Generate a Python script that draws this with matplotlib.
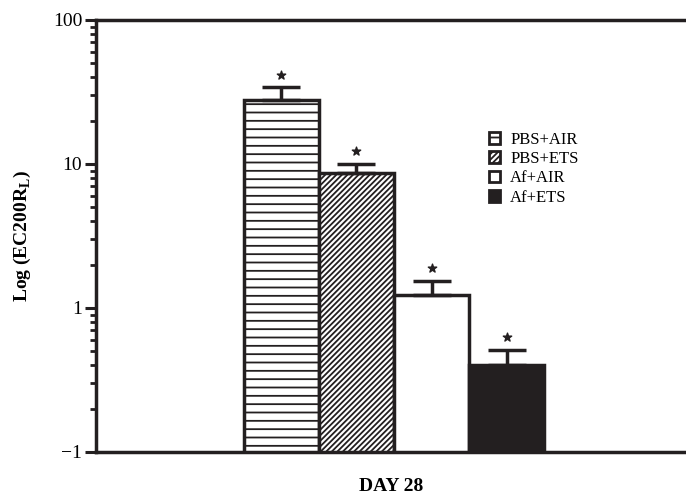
import matplotlib
matplotlib.use("Agg")
import matplotlib.pyplot as plt
from matplotlib.ticker import FixedLocator, LogLocator, NullFormatter
import numpy as np

groups = ["PBS+AIR", "PBS+ETS", "Af+AIR", "Af+ETS"]
means = [28.0, 8.7, 1.23, 0.40]
errors = [6.0, 1.3, 0.31, 0.11]
tick_values = [0.1, 1, 10, 100]
tick_labels = ["\u22121", "1", "10", "100"]
xlabel = "DAY 28"

plt.rcParams['font.family'] = ['Liberation Serif', 'DejaVu Serif']
plt.rcParams['mathtext.fontset'] = 'custom'
plt.rcParams['mathtext.rm'] = 'Liberation Serif'
plt.rcParams['mathtext.bf'] = 'Liberation Serif:bold'
plt.rcParams['hatch.linewidth'] = 1.3

fig = plt.figure(figsize=(6.86, 4.95), dpi=100)
ax = fig.add_axes([96/686, 1-452/495, 1-96/686, (452-20)/495])

hatches = ['--', '//////', '', '']
faces = ['white', 'white', 'white', '#231f20']
x = np.arange(len(groups))
col = '#231f20'
bars = ax.bar(x, means, width=1.0, color=faces, edgecolor=col, linewidth=2.5,
              zorder=2)
for b, h, g in zip(bars, hatches, groups):
    b.set_hatch(h)
    b.set_label(g)
ax.errorbar(x, means, yerr=[np.zeros(len(means)), errors], fmt='none',
            ecolor=col, elinewidth=2.5, capsize=14, capthick=2.5, zorder=3)
tops = np.array(means) + np.array(errors)
ax.scatter(x, tops * 1.23, marker='*', s=40, color=col, zorder=4)

ax.set_yscale('log')
ax.set_ylim(0.1, 100)
ax.set_xlim(-2.473, 5.393)
ax.yaxis.set_major_locator(FixedLocator(tick_values))
ax.set_yticklabels(tick_labels)
ax.yaxis.set_minor_locator(LogLocator(base=10, subs=np.arange(2, 10)))
ax.yaxis.set_minor_formatter(NullFormatter())
ax.set_xticks([])
ax.tick_params(axis='y', which='major', direction='out', length=8, width=2.2,
               labelsize=14, color=col, pad=2)
ax.tick_params(axis='y', which='minor', direction='out', length=4, width=2.0, color=col)
for s in ['left', 'bottom', 'top']:
    ax.spines[s].set_linewidth(2.5)
    ax.spines[s].set_color(col)
ax.spines['right'].set_visible(False)

ax.set_ylabel(r"Log (EC200R$_\mathbf{L}$)", fontsize=14, fontweight='bold', labelpad=14)
ax.set_xlabel(xlabel, fontsize=14, fontweight='bold', labelpad=19)

leg = ax.legend(loc='upper left', bbox_to_anchor=(482/686, 1-125/495),
                bbox_transform=fig.transFigure, frameon=False, fontsize=12,
                handlelength=0.7, handleheight=0.7, handletextpad=0.6,
                labelspacing=0.2, borderaxespad=0)
for p in leg.get_patches():
    p.set_linewidth(2.0)

fig.savefig("out.png", dpi=100)
